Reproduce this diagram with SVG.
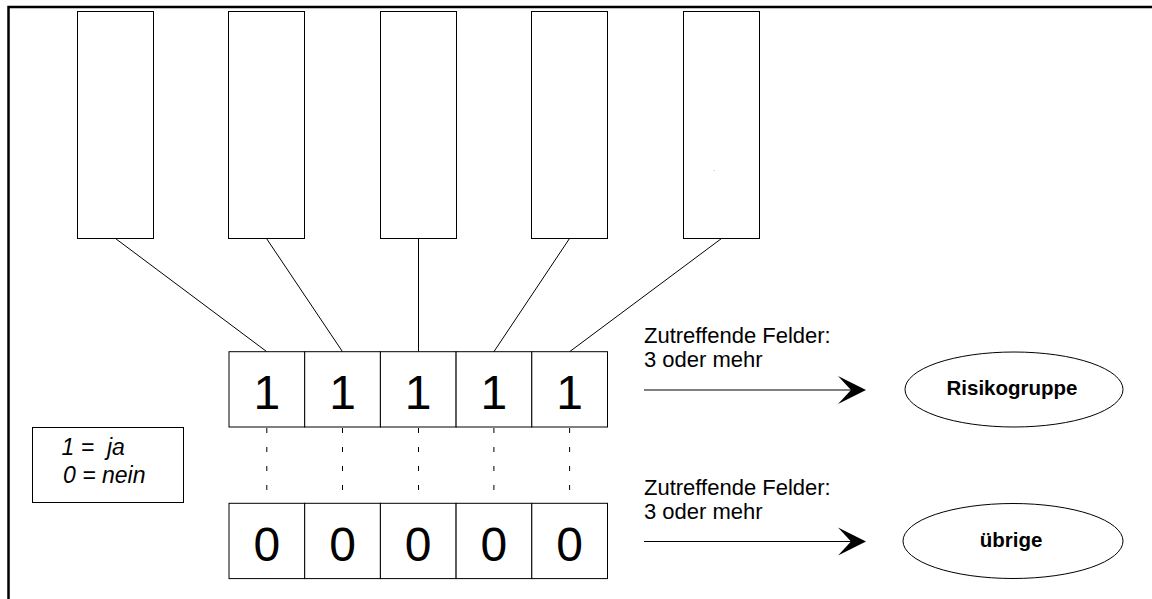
<svg xmlns="http://www.w3.org/2000/svg" width="1152" height="599" viewBox="0 0 1152 599">
<style>
.box{fill:#fff;stroke:#000;stroke-width:1}
.ln{stroke:#000;stroke-width:1;fill:none}
.dot{stroke:#000;stroke-width:1;stroke-dasharray:5 14;fill:none}
.dig{font-family:"Liberation Sans",Arial,sans-serif;font-size:48px;text-anchor:middle;fill:#000}
.lbl{font-family:"Liberation Sans",Arial,sans-serif;font-size:22px;fill:#000}
.bold{font-family:"Liberation Sans",Arial,sans-serif;font-size:20.5px;font-weight:bold;text-anchor:middle;fill:#000}
.it{font-family:"Liberation Sans",Arial,sans-serif;font-size:23px;font-style:italic;fill:#000}
</style>
<rect width="1152" height="599" fill="#fff"/>
<path d="M8.5,599 V7 H1152" fill="none" stroke="#000" stroke-width="2.5"/>
<g id="col1"><rect class="box" x="77.5" y="11.5" width="76" height="227"/></g>
<g id="col2"><rect class="box" x="228.5" y="11.5" width="76" height="227"/></g>
<g id="col3"><rect class="box" x="380.5" y="11.5" width="76" height="227"/></g>
<g id="col4"><rect class="box" x="531.5" y="11.5" width="76" height="227"/></g>
<g id="col5"><rect class="box" x="683.5" y="11.5" width="76" height="227"/><text x="713.5" y="171" style="font-family:'Liberation Sans',Arial,sans-serif;font-size:5px">.</text></g>
<g id="connectors">
<line class="ln" x1="115.5" y1="238.5" x2="266.8" y2="351.7"/>
<line class="ln" x1="266.5" y1="238.5" x2="342.5" y2="351.7"/>
<line class="ln" x1="418.5" y1="238.5" x2="418.5" y2="351.7"/>
<line class="ln" x1="569.5" y1="238.5" x2="493.9" y2="351.7"/>
<line class="ln" x1="721.5" y1="238.5" x2="569.6" y2="351.7"/>
<line class="dot" x1="266.8" y1="428" x2="266.8" y2="503"/>
<line class="dot" x1="342.5" y1="428" x2="342.5" y2="503"/>
<line class="dot" x1="418.5" y1="428" x2="418.5" y2="503"/>
<line class="dot" x1="493.9" y1="428" x2="493.9" y2="503"/>
<line class="dot" x1="569.6" y1="428" x2="569.6" y2="503"/>
<line class="ln" x1="644" y1="390" x2="855" y2="390"/>
<polygon points="866,390 838,376 851,390 838,404" fill="#000"/>
<line class="ln" x1="644" y1="541.5" x2="855" y2="541.5"/>
<polygon points="866,541.5 838,527.5 851,541.5 838,555.5" fill="#000"/>
</g>
<g id="row1">
<rect class="box" x="229" y="351.7" width="75.7" height="75.3"/>
<rect class="box" x="304.7" y="351.7" width="75.7" height="75.3"/>
<rect class="box" x="380.4" y="351.7" width="75.7" height="75.3"/>
<rect class="box" x="456.1" y="351.7" width="75.7" height="75.3"/>
<rect class="box" x="531.8" y="351.7" width="75.7" height="75.3"/>
<text class="dig" x="266.8" y="409.3">1</text>
<text class="dig" x="342.5" y="409.3">1</text>
<text class="dig" x="418.2" y="409.3">1</text>
<text class="dig" x="493.9" y="409.3">1</text>
<text class="dig" x="569.6" y="409.3">1</text>
</g>
<g id="row0">
<rect class="box" x="229" y="503.3" width="75.7" height="75.3"/>
<rect class="box" x="304.7" y="503.3" width="75.7" height="75.3"/>
<rect class="box" x="380.4" y="503.3" width="75.7" height="75.3"/>
<rect class="box" x="456.1" y="503.3" width="75.7" height="75.3"/>
<rect class="box" x="531.8" y="503.3" width="75.7" height="75.3"/>
<text class="dig" x="266.8" y="560.7">0</text>
<text class="dig" x="342.5" y="560.7">0</text>
<text class="dig" x="418.2" y="560.7">0</text>
<text class="dig" x="493.9" y="560.7">0</text>
<text class="dig" x="569.6" y="560.7">0</text>
</g>
<g id="legend">
<rect class="box" x="32.5" y="427.5" width="151" height="75"/>
<text class="it" x="61.5" y="455" xml:space="preserve">1 =  ja</text>
<text class="it" x="63" y="482.7">0 = nein</text>
</g>
<g id="label1">
<text class="lbl" x="644" y="343.3">Zutreffende Felder:</text>
<text class="lbl" x="644" y="367">3 oder mehr</text>
</g>
<g id="label2">
<text class="lbl" x="644" y="495">Zutreffende Felder:</text>
<text class="lbl" x="644" y="518.5">3 oder mehr</text>
</g>
<g id="risikogruppe">
<ellipse class="box" cx="1014" cy="389.5" rx="109" ry="37.5"/>
<text class="bold" x="1012" y="395">Risikogruppe</text>
</g>
<g id="uebrige">
<ellipse class="box" cx="1013" cy="541" rx="110" ry="37.5"/>
<text class="bold" x="1011" y="547">übrige</text>
</g>
</svg>
